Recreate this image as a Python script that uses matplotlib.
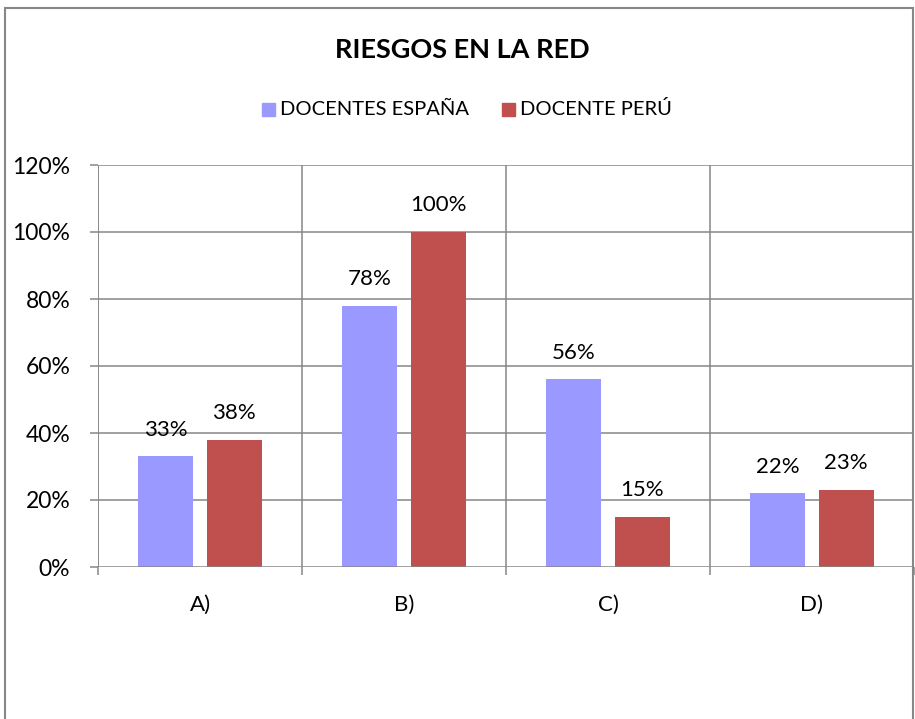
import matplotlib
matplotlib.use("Agg")
import matplotlib.pyplot as plt
from matplotlib.patches import Rectangle
import numpy as np

plt.rcParams['font.family'] = ['Lato', 'DejaVu Sans']

categories = ["A)", "B)", "C)", "D)"]
espana = [33, 78, 56, 22]
peru = [38, 100, 15, 23]
series_names = ["DOCENTES ESPAÑA", "DOCENTE PERÚ"]
yticks = [0, 20, 40, 60, 80, 100, 120]

blue = "#9999FF"
red = "#C0504D"
grid = "#868686"

W, H = 915, 719
fig = plt.figure(figsize=(W / 100, H / 100), dpi=100)

# outer chart border
fig.patches.append(Rectangle((5 / W, -0.05), 908 / W, 1.05 - 8 / H, transform=fig.transFigure,
                             fill=False, edgecolor="#878787", linewidth=1.5))

ax = fig.add_axes([98 / W, (H - 567) / H, (914 - 98) / W, (567 - 165) / H])
x = np.arange(len(categories))
bw = 0.27
off = 0.168
b1 = ax.bar(x - off, espana, bw, color=blue, zorder=3)
b2 = ax.bar(x + off, peru, bw, color=red, zorder=3)

for bars, vals in ((b1, espana), (b2, peru)):
    for r, v in zip(bars, vals):
        ax.annotate(f"{v}%", (r.get_x() + r.get_width() / 2, v), xytext=(0, 12),
                    textcoords="offset points", ha="center", va="bottom", fontsize=16)

ax.set_xlim(-0.5, len(categories) - 0.5)
ax.set_ylim(0, 120)
ax.set_yticks(yticks)
ax.set_yticklabels([f"{t}%" for t in yticks], fontsize=16.5)
ax.set_xticks(np.arange(len(categories) + 1) - 0.5)
ax.set_xticklabels([])
ax.set_xticks(x, minor=True)
ax.set_xticklabels(categories, minor=True, fontsize=16)
ax.tick_params(axis="x", which="minor", length=0, pad=20)
ax.tick_params(axis="x", which="major", length=6, width=1.1, color=grid, direction="out")
ax.tick_params(axis="y", length=6, width=1.1, color=grid, direction="out", pad=14)

for t in yticks[1:]:
    ax.axhline(t, color=grid, lw=1.1, zorder=1)
for b in np.arange(len(categories) + 1) - 0.5:
    ax.axvline(b, color=grid, lw=1.1, zorder=1)
for s in ax.spines.values():
    s.set_visible(False)
ax.axhline(0, color=grid, lw=1.1, zorder=4)
ax.axvline(-0.5, color=grid, lw=1.1, zorder=4)

fig.text(462 / W, 1 - 50 / H, "RIESGOS EN LA RED", ha="center", va="center",
         fontsize=19.5, fontweight="bold")

# legend drawn as marker squares with labels
ly = 1 - 109 / H
for sx, col, name in ((262, blue, series_names[0]), (502, red, series_names[1])):
    fig.patches.append(Rectangle((sx / W, ly - 6.5 / H), 13 / W, 13 / H, transform=fig.transFigure,
                                 color=col))
    fig.text((sx + 18) / W, ly, name, ha="left", va="center", fontsize=14.5)

fig.savefig("out.png", dpi=100)
